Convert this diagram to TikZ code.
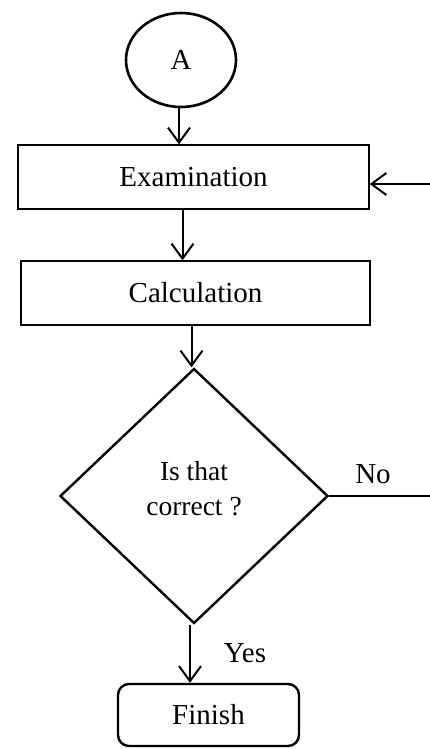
\documentclass[tikz,border=0pt]{standalone}
\usepackage{fontspec}
\setmainfont{Liberation Serif}
\usetikzlibrary{shapes.geometric,arrows.meta}
\begin{document}
\begin{tikzpicture}[x=1pt,y=-1pt,
  txt/.style={font=\fontsize{29}{35}\selectfont},
  boxstep/.style={draw, line width=1.4pt, rectangle, inner sep=0pt, minimum width=350pt, minimum height=64pt, txt},
  flow/.style={line width=2pt, -{Straight Barb[length=15pt,width=22pt,line width=2pt]}}]
\useasboundingbox (0,0) rectangle (430,749);
\node[draw, ellipse, line width=2.6pt, minimum width=110pt, minimum height=94pt, inner sep=0pt, txt] (A) at (181,60) {A};
\node[boxstep, minimum width=351pt] (exam) at (193.5,177) {Examination};
\node[boxstep, minimum width=349pt] (calc) at (195.5,293) {Calculation};
\node[draw, diamond, line width=2.4pt, minimum width=268pt, minimum height=255pt, inner sep=0pt] (dec) at (194,496) {};
\node[align=center, font=\fontsize{27.5}{35}\selectfont] (dectext) at (194,489) {Is that\\correct ?};
\node[draw, rounded corners=11pt, line width=2.4pt, minimum width=181pt, minimum height=62pt, inner sep=0pt, txt] (fin) at (208.5,715) {Finish};
\node[txt, anchor=center] (no) at (373,474) {No};
\node[txt, anchor=center] (yes) at (245,653) {Yes};
\coordinate (noR) at (431,496);
\coordinate (inR) at (431,184);
\draw[flow] ([xshift=-2pt]A.south) -- ([xshift=-2pt]A.south |- exam.north);
\draw[flow] ([xshift=-11pt]exam.south) -- ([xshift=-11pt]exam.south |- calc.north);
\draw[flow] ([xshift=-4pt]calc.south) -- ([xshift=-4pt]calc.south |- dec.north);
\draw[flow] ([xshift=-4pt]dec.south) -- ([xshift=-4pt]dec.south |- fin.north);
\draw[line width=1.4pt] (dec.east) -- (noR);
\draw[flow] (inR) -- (inR -| exam.east);
\end{tikzpicture}
\end{document}
